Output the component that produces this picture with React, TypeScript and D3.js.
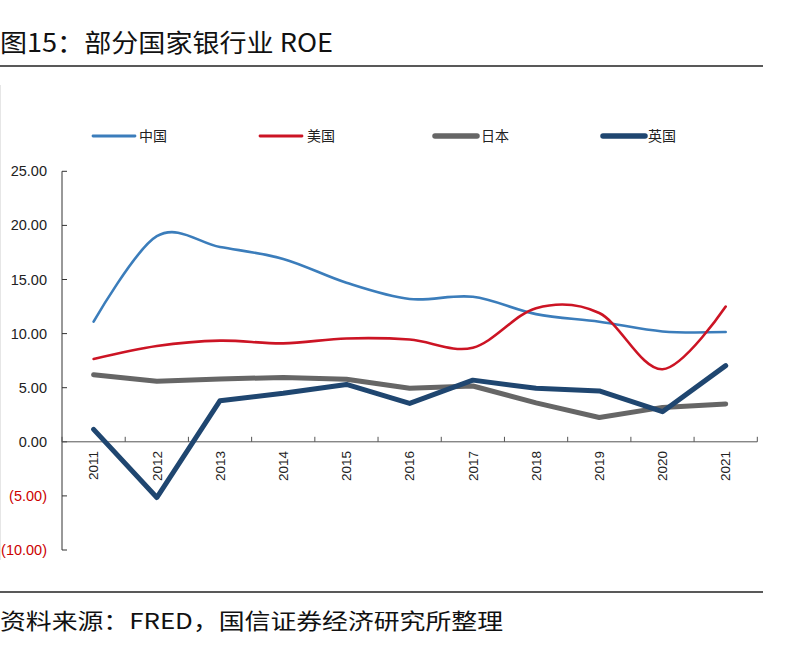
import React from "react";
import * as d3 from "d3";

const years = ["2011","2012","2013","2014","2015","2016","2017","2018","2019","2020","2021"];
const china = [11.1, 19.0, 18.0, 16.9, 14.7, 13.2, 13.4, 11.8, 11.1, 10.2, 10.15];
const usa = [7.65, 8.85, 9.35, 9.1, 9.55, 9.45, 8.7, 12.35, 11.9, 6.7, 12.5];
const japan = [6.2, 5.6, 5.8, 5.95, 5.78, 4.94, 5.16, 3.6, 2.25, 3.18, 3.5];
const uk = [1.15, -5.15, 3.8, 4.48, 5.3, 3.55, 5.7, 4.94, 4.7, 2.78, 7.04];
const yTicks = [25, 20, 15, 10, 5, 0, -5, -10];

const seriesDefs = [
  { name: "中国", values: china, color: "#3b7dbb", width: 2.6, smooth: true, lx: 93, tx: 139 },
  { name: "美国", values: usa, color: "#cc1424", width: 2.6, smooth: true, lx: 260, tx: 307 },
  { name: "日本", values: japan, color: "#666666", width: 5, smooth: false, lx: 435, tx: 481 },
  { name: "英国", values: uk, color: "#1f4670", width: 5, smooth: false, lx: 603, tx: 648 },
];

const fmt = (v: number) => (v < 0 ? `(${Math.abs(v).toFixed(2)})` : v.toFixed(2));

export default function App() {
  const W = 807, H = 657;
  const x = d3.scaleBand<string>().domain(years).range([62, 757.3]);
  const y = d3.scaleLinear().domain([-10, 25]).range([550, 171.3]);
  const cx = (i: number) => (x(years[i]) as number) + x.bandwidth() / 2;

  const smoothLine = d3.line<number>().x((_, i) => cx(i)).y((d) => y(d)).curve(d3.curveCatmullRom.alpha(0));
  const straightLine = d3.line<number>().x((_, i) => cx(i)).y((d) => y(d)).curve(d3.curveLinear);

  const boundaries = years.map((yr) => x(yr) as number).concat([757.3]);
  const cjk = "'Noto Sans CJK SC', sans-serif";
  const latin = "'Liberation Sans', Arial, sans-serif";

  return (
    <svg width={W} height={H} style={{ position: "absolute", left: 0, top: 0, background: "#fff" }}>
      <rect x={0} y={0} width={W} height={H} fill="#fff" />
      {/* Title */}
      <text x={0} y={52} fontFamily={cjk} fontSize={25} fill="#111" textLength={333} lengthAdjust="spacingAndGlyphs">
        图15：部分国家银行业 ROE
      </text>
      <line x1={0} x2={763} y1={66} y2={66} stroke="#222" strokeWidth={1.5} />
      {/* faint left frame */}
      <line x1={0.5} x2={0.5} y1={85} y2={560} stroke="#e6e6e6" strokeWidth={1} />

      {/* Legend */}
      {seriesDefs.map((s) => (
        <g key={s.name}>
          <line x1={s.lx} x2={s.lx + 42} y1={136} y2={136} stroke={s.color} strokeWidth={s.smooth ? 2.8 : 5.5} strokeLinecap="round" />
          <text x={s.tx} y={141} fontFamily={cjk} fontSize={14} fill="#222">{s.name}</text>
        </g>
      ))}

      {/* Y axis */}
      <line x1={62} x2={62} y1={y(25)} y2={y(-10)} stroke="#333" strokeWidth={1} />
      {yTicks.map((t) => (
        <g key={t}>
          <line x1={62} x2={67} y1={y(t)} y2={y(t)} stroke="#333" strokeWidth={1} />
          <text x={47} y={y(t)} dy="0.35em" textAnchor="end" fontFamily={latin} fontSize={14.5} fill={t < 0 ? "#cc0000" : "#222"}>
            {fmt(t)}
          </text>
        </g>
      ))}

      {/* X axis */}
      <line x1={62} x2={757.3} y1={y(0)} y2={y(0)} stroke="#555" strokeWidth={1} />
      {boundaries.map((b, i) => (
        <line key={i} x1={b} x2={b} y1={y(0)} y2={y(0) - 5} stroke="#555" strokeWidth={1} />
      ))}
      {years.map((yr, i) => (
        <text key={yr} transform={`translate(${cx(i)},${451}) rotate(-90)`} dy="0.35em" textAnchor="end" fontFamily={latin} fontSize={13.5} fill="#222">
          {yr}
        </text>
      ))}

      {/* Series */}
      {seriesDefs.map((s) => (
        <path key={s.name} d={(s.smooth ? smoothLine : straightLine)(s.values) as string} fill="none" stroke={s.color} strokeWidth={s.width} strokeLinejoin="round" strokeLinecap="round" />
      ))}

      {/* Footer */}
      <line x1={0} x2={763} y1={592} y2={592} stroke="#222" strokeWidth={1.5} />
      <text x={0} y={629} fontFamily={cjk} fontSize={22} fill="#111" textLength={503} lengthAdjust="spacingAndGlyphs">
        资料来源：FRED，国信证券经济研究所整理
      </text>
    </svg>
  );
}
